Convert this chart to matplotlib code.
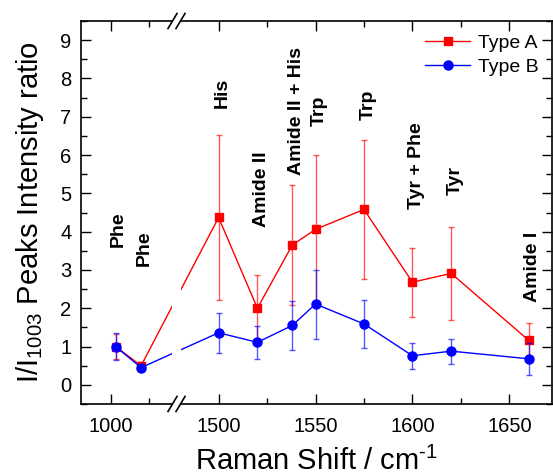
import numpy as np
import matplotlib
matplotlib.use('Agg')
import matplotlib.pyplot as plt
from matplotlib.lines import Line2D
from matplotlib.patches import Rectangle
from matplotlib.ticker import FixedLocator, MultipleLocator

plt.rcParams['font.family'] = ['Liberation Sans', 'DejaVu Sans']
plt.rcParams['mathtext.fontset'] = 'custom'
plt.rcParams['mathtext.rm'] = 'Liberation Sans'

# data
shift = [1003, 1020, 1500, 1520, 1538, 1550, 1575, 1600, 1620, 1660]
type_a = [1.00, 0.50, 4.37, 2.00, 3.65, 4.06, 4.58, 2.68, 2.91, 1.16]
type_a_err = [0.33, 0.10, 2.15, 0.87, 1.56, 1.94, 1.82, 0.90, 1.22, 0.46]
type_b = [1.00, 0.45, 1.36, 1.11, 1.55, 2.11, 1.59, 0.76, 0.88, 0.68]
type_b_err = [0.35, 0.08, 0.52, 0.43, 0.64, 0.90, 0.63, 0.34, 0.33, 0.42]

peak_labels = ['Phe', 'Phe', 'His', 'Amide II', 'Amide II + His', 'Trp', 'Trp',
               'Tyr + Phe', 'Tyr', 'Amide I']
label_y = [3.6, 3.1, 7.22, 4.13, 5.48, 6.75, 6.91, 4.59, 4.95, 2.17]

major_x = [1000, 1500, 1550, 1600, 1650]
minor_x = [1025, 1525, 1575, 1625]

# broken x axis: piecewise linear scale (pixel units)
xk = np.array([0, 980, 1043, 1479, 1672, 3000])
pk = np.array([81 - 980 * 1.504, 81, 81 + 63 * 1.504, 178, 178 + 193 * 1.94,
               178 + 1521 * 1.94])


def fwd(x):
    return np.interp(x, xk, pk)


def inv(p):
    return np.interp(p, pk, xk)


W, H = 553, 475
fig = plt.figure(figsize=(W / 100, H / 100), dpi=100)
ax = fig.add_axes([81 / W, (H - 404) / H, (552 - 81) / W, (404 - 21) / H])
ax.set_xscale('function', functions=(fwd, inv))
ax.set_xlim(980, 1672)
ax.set_ylim(-0.5, 9.5)

ax.errorbar(shift, type_a, yerr=type_a_err, fmt='none', ecolor='red',
            alpha=0.65, elinewidth=1, capsize=2.5, capthick=1, zorder=2)
la, = ax.plot(shift, type_a, '-s', color='red', lw=1, ms=5.5, zorder=2.1,
              label='Type A')
ax.errorbar(shift, type_b, yerr=type_b_err, fmt='none', ecolor='blue',
            alpha=0.65, elinewidth=1, capsize=2.5, capthick=1, zorder=2.2)
lb, = ax.plot(shift, type_b, '-o', color='blue', lw=1, ms=6.5, zorder=2.3,
              label='Type B')

for xv, name, yv in zip(shift, peak_labels, label_y):
    ax.text(xv + 2, yv, name, rotation=90, ha='center', va='bottom',
            fontsize=14, fontweight='bold')

ax.xaxis.set_major_locator(FixedLocator(major_x))
ax.xaxis.set_minor_locator(FixedLocator(minor_x))
ax.set_xticklabels([str(v) for v in major_x])
ax.yaxis.set_major_locator(MultipleLocator(1))
ax.yaxis.set_minor_locator(MultipleLocator(0.5))
ax.tick_params(which='both', direction='in', top=True, right=True,
               labelsize=14.5, width=1)
ax.tick_params(which='major', length=7)
ax.tick_params(which='minor', length=4)
ax.tick_params(axis='x', pad=9)
ax.tick_params(axis='y', pad=7)
for s in ax.spines.values():
    s.set_linewidth(1.2)

ax.set_xlabel('Raman Shift / cm$^{\\text{-1}}$', fontsize=21, labelpad=8)
ax.set_ylabel('I/I$_{\\mathrm{1003}}$ Peaks Intensity ratio', fontsize=21,
              labelpad=10)

ax.legend(handles=[la, lb], loc='upper right', frameon=False, fontsize=14,
          handlelength=2.3, handletextpad=0.4, labelspacing=0.3,
          borderaxespad=0.3)

# gap and break marks
x0 = (172 - 81) / (552 - 81)
x1 = (181 - 81) / (552 - 81)
ax.add_patch(Rectangle((x0, -0.02), x1 - x0, 1.04, transform=ax.transAxes,
                       facecolor='white', edgecolor='none', clip_on=False,
                       zorder=5))
for yc in (21, 404):
    for dx in (0, 8):
        fig.add_artist(Line2D([(168 + dx) / W, (177 + dx) / W],
                              [(H - yc - 7.5) / H, (H - yc + 7.5) / H],
                              color='black', lw=1.2, zorder=6))

fig.savefig('out.png', dpi=100)
